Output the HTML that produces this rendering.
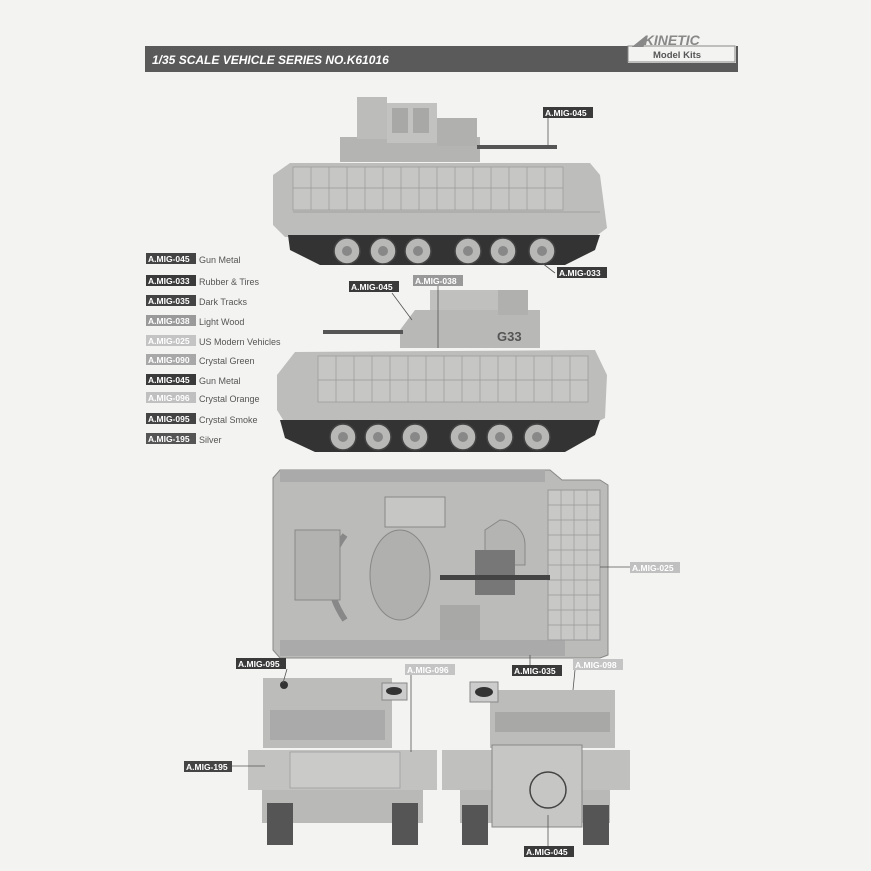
<!DOCTYPE html>
<html><head><meta charset="utf-8"><style>
html,body{margin:0;padding:0;background:#f3f3f1;}
svg{display:block;font-family:"Liberation Sans",sans-serif;}
</style></head><body>
<svg width="871" height="871" viewBox="0 0 871 871" xmlns="http://www.w3.org/2000/svg">
<rect width="871" height="871" fill="#f3f3f1"/>
<!-- header -->
<rect x="145" y="46" width="593" height="26" fill="#5a5a5a"/>
<text x="152" y="64" font-size="12" font-weight="bold" font-style="italic" fill="#fff">1/35 SCALE VEHICLE SERIES NO.K61016</text>
<rect x="628" y="33" width="108" height="30" fill="#f3f3f1"/>
<rect x="628" y="46" width="107" height="16" fill="#f3f3f1" stroke="#888" stroke-width="1"/>
<text x="633" y="45" font-size="14" font-weight="bold" fill="#888" font-style="italic">◢KINETIC</text>
<text x="653" y="58" font-size="9.5" font-weight="bold" fill="#555">Model Kits</text>

<!-- legend -->
<g font-size="8.5" font-weight="bold">
<rect x="146" y="253" width="50" height="11" fill="#444"/><text x="148" y="262" fill="#fff">A.MIG-045</text>
<rect x="146" y="275" width="50" height="11" fill="#3a3a3a"/><text x="148" y="284" fill="#fff">A.MIG-033</text>
<rect x="146" y="295" width="50" height="11" fill="#444"/><text x="148" y="304" fill="#fff">A.MIG-035</text>
<rect x="146" y="315" width="50" height="11" fill="#9a9a9a"/><text x="148" y="324" fill="#fff">A.MIG-038</text>
<rect x="146" y="335" width="50" height="11" fill="#c4c4c4"/><text x="148" y="344" fill="#fff">A.MIG-025</text>
<rect x="146" y="354" width="50" height="11" fill="#a8a8a8"/><text x="148" y="363" fill="#fff">A.MIG-090</text>
<rect x="146" y="374" width="50" height="11" fill="#3a3a3a"/><text x="148" y="383" fill="#fff">A.MIG-045</text>
<rect x="146" y="392" width="50" height="11" fill="#c0c0c0"/><text x="148" y="401" fill="#fff">A.MIG-096</text>
<rect x="146" y="413" width="50" height="11" fill="#444"/><text x="148" y="422" fill="#fff">A.MIG-095</text>
<rect x="146" y="433" width="50" height="11" fill="#555"/><text x="148" y="442" fill="#fff">A.MIG-195</text>
</g>
<g font-size="9" fill="#555">
<text x="199" y="263">Gun Metal</text>
<text x="199" y="285">Rubber &amp; Tires</text>
<text x="199" y="305">Dark Tracks</text>
<text x="199" y="325">Light Wood</text>
<text x="199" y="345">US Modern Vehicles</text>
<text x="199" y="364">Crystal Green</text>
<text x="199" y="384">Gun Metal</text>
<text x="199" y="402">Crystal Orange</text>
<text x="199" y="423">Crystal Smoke</text>
<text x="199" y="443">Silver</text>
</g>

<!-- side view 1 -->
<g>
<rect x="340" y="137" width="140" height="25" fill="#b4b4b2"/>
<rect x="357" y="97" width="30" height="42" fill="#bcbcba"/>
<rect x="387" y="103" width="50" height="40" fill="#c2c2c0"/>
<rect x="392" y="108" width="16" height="25" fill="#a8a8a6"/>
<rect x="413" y="108" width="16" height="25" fill="#a8a8a6"/>
<rect x="437" y="118" width="40" height="28" fill="#b0b0ae"/>
<rect x="477" y="145" width="80" height="4" fill="#555"/>
<polygon points="273,175 290,163 590,163 600,175 607,228 595,237 285,237 273,225" fill="#bdbdbb"/>
<rect x="293" y="167" width="270" height="43" fill="#c6c6c4" stroke="#999" stroke-width="0.7"/>
<g stroke="#999" stroke-width="0.7">
<line x1="293" y1="188" x2="563" y2="188"/>
<line x1="311" y1="167" x2="311" y2="210"/><line x1="329" y1="167" x2="329" y2="210"/><line x1="347" y1="167" x2="347" y2="210"/><line x1="365" y1="167" x2="365" y2="210"/><line x1="383" y1="167" x2="383" y2="210"/><line x1="401" y1="167" x2="401" y2="210"/><line x1="419" y1="167" x2="419" y2="210"/><line x1="437" y1="167" x2="437" y2="210"/><line x1="455" y1="167" x2="455" y2="210"/><line x1="473" y1="167" x2="473" y2="210"/><line x1="491" y1="167" x2="491" y2="210"/><line x1="509" y1="167" x2="509" y2="210"/><line x1="527" y1="167" x2="527" y2="210"/><line x1="545" y1="167" x2="545" y2="210"/>
<line x1="293" y1="212" x2="600" y2="212"/>
</g>
<path d="M288,235 L600,235 L595,250 L565,265 L320,265 L290,250 Z" fill="#333"/>
<g fill="#b8b8b6" stroke="#444" stroke-width="1.5">
<circle cx="347" cy="251" r="13"/><circle cx="383" cy="251" r="13"/><circle cx="418" cy="251" r="13"/><circle cx="468" cy="251" r="13"/><circle cx="503" cy="251" r="13"/><circle cx="542" cy="251" r="13"/>
</g>
<g fill="#888"><circle cx="347" cy="251" r="5"/><circle cx="383" cy="251" r="5"/><circle cx="418" cy="251" r="5"/><circle cx="468" cy="251" r="5"/><circle cx="503" cy="251" r="5"/><circle cx="542" cy="251" r="5"/></g>
</g>

<!-- side view 2 -->
<g>
<rect x="430" y="290" width="80" height="22" fill="#c0c0be"/>
<polygon points="400,330 415,310 540,310 540,348 400,348" fill="#b8b8b6"/>
<rect x="498" y="290" width="30" height="25" fill="#b0b0ae"/>
<rect x="323" y="330" width="80" height="4" fill="#555"/>
<text x="497" y="341" font-size="13" font-weight="bold" fill="#555">G33</text>
<polygon points="277,375 295,352 595,350 607,375 605,418 595,423 285,423 277,410" fill="#bdbdbb"/>
<rect x="318" y="356" width="270" height="46" fill="#c6c6c4" stroke="#999" stroke-width="0.7"/>
<g stroke="#999" stroke-width="0.7">
<line x1="318" y1="380" x2="588" y2="380"/>
<line x1="336" y1="356" x2="336" y2="402"/><line x1="354" y1="356" x2="354" y2="402"/><line x1="372" y1="356" x2="372" y2="402"/><line x1="390" y1="356" x2="390" y2="402"/><line x1="408" y1="356" x2="408" y2="402"/><line x1="426" y1="356" x2="426" y2="402"/><line x1="444" y1="356" x2="444" y2="402"/><line x1="462" y1="356" x2="462" y2="402"/><line x1="480" y1="356" x2="480" y2="402"/><line x1="498" y1="356" x2="498" y2="402"/><line x1="516" y1="356" x2="516" y2="402"/><line x1="534" y1="356" x2="534" y2="402"/><line x1="552" y1="356" x2="552" y2="402"/><line x1="570" y1="356" x2="570" y2="402"/>
</g>
<path d="M280,420 L600,420 L595,435 L565,452 L315,452 L285,438 Z" fill="#333"/>
<g fill="#b8b8b6" stroke="#444" stroke-width="1.5">
<circle cx="343" cy="437" r="13"/><circle cx="378" cy="437" r="13"/><circle cx="415" cy="437" r="13"/><circle cx="463" cy="437" r="13"/><circle cx="500" cy="437" r="13"/><circle cx="537" cy="437" r="13"/>
</g>
<g fill="#888"><circle cx="343" cy="437" r="5"/><circle cx="378" cy="437" r="5"/><circle cx="415" cy="437" r="5"/><circle cx="463" cy="437" r="5"/><circle cx="500" cy="437" r="5"/><circle cx="537" cy="437" r="5"/></g>
</g>

<!-- top view -->
<g>
<polygon points="280,470 550,470 562,480 600,480 608,485 608,655 600,658 280,658 273,650 273,478" fill="#bbbbb9" stroke="#888"/>
<rect x="280" y="470" width="265" height="12" fill="#aaa"/>
<rect x="280" y="640" width="285" height="16" fill="#aaa"/>
<rect x="548" y="490" width="52" height="150" fill="#c8c8c6" stroke="#999"/>
<g stroke="#999" stroke-width="0.7">
<line x1="561" y1="490" x2="561" y2="640"/><line x1="574" y1="490" x2="574" y2="640"/><line x1="587" y1="490" x2="587" y2="640"/>
<line x1="548" y1="505" x2="600" y2="505"/><line x1="548" y1="520" x2="600" y2="520"/><line x1="548" y1="535" x2="600" y2="535"/><line x1="548" y1="550" x2="600" y2="550"/><line x1="548" y1="565" x2="600" y2="565"/><line x1="548" y1="580" x2="600" y2="580"/><line x1="548" y1="595" x2="600" y2="595"/><line x1="548" y1="610" x2="600" y2="610"/><line x1="548" y1="625" x2="600" y2="625"/>
</g>
<rect x="385" y="497" width="60" height="30" fill="#c6c6c4" stroke="#888"/>
<path d="M345,535 q-30,40 0,85" fill="none" stroke="#888" stroke-width="6"/>
<ellipse cx="400" cy="575" rx="30" ry="45" fill="#b0b0ae" stroke="#888"/>
<path d="M500,520 a25,25 0 0 1 25,25 l0,20 l-40,0 l0,-35 Z" fill="#b4b4b2" stroke="#888"/>
<rect x="475" y="550" width="40" height="45" fill="#777"/>
<rect x="440" y="575" width="110" height="5" fill="#444"/>
<rect x="295" y="530" width="45" height="70" fill="#b2b2b0" stroke="#888"/>
<rect x="440" y="605" width="40" height="35" fill="#a8a8a6"/>
</g>

<!-- front view left -->
<g>
<rect x="263" y="678" width="129" height="70" fill="#bcbcba"/>
<rect x="270" y="710" width="115" height="30" fill="#aaa"/>
<circle cx="284" cy="685" r="4" fill="#333"/>
<rect x="382" y="683" width="25" height="17" fill="#ccc" stroke="#888"/>
<ellipse cx="394" cy="691" rx="8" ry="4" fill="#333"/>
<rect x="248" y="750" width="189" height="40" fill="#c2c2c0"/>
<rect x="290" y="752" width="110" height="36" fill="#cacac8" stroke="#999" stroke-width="0.7"/>
<rect x="262" y="790" width="161" height="33" fill="#b9b9b7"/>
<rect x="267" y="803" width="26" height="42" fill="#555"/>
<rect x="392" y="803" width="26" height="42" fill="#555"/>
</g>
<!-- front view right -->
<g>
<rect x="490" y="690" width="125" height="58" fill="#bcbcba"/>
<rect x="495" y="712" width="115" height="20" fill="#a8a8a6"/>
<rect x="470" y="682" width="28" height="20" fill="#ccc" stroke="#888"/>
<ellipse cx="484" cy="692" rx="9" ry="5" fill="#333"/>
<polygon points="442,750 630,750 630,790 442,790" fill="#c0c0be"/>
<rect x="460" y="790" width="150" height="33" fill="#b9b9b7"/>
<rect x="492" y="745" width="90" height="82" fill="#c6c6c4" stroke="#888"/>
<circle cx="548" cy="790" r="18" fill="none" stroke="#444" stroke-width="1.5"/>
<rect x="462" y="805" width="26" height="40" fill="#555"/>
<rect x="583" y="805" width="26" height="40" fill="#555"/>
</g>

<!-- callouts -->
<g stroke="#555" stroke-width="0.8">
<line x1="548" y1="118" x2="548" y2="147"/>
<line x1="555" y1="273" x2="542" y2="263"/>
<line x1="392" y1="293" x2="412" y2="320"/>
<line x1="438" y1="286" x2="438" y2="348"/>
<line x1="600" y1="567" x2="630" y2="567"/>
<line x1="287" y1="669" x2="283" y2="683"/>
<line x1="411" y1="675" x2="411" y2="752"/>
<line x1="530" y1="655" x2="530" y2="665"/>
<line x1="575" y1="670" x2="573" y2="690"/>
<line x1="232" y1="766" x2="265" y2="766"/>
<line x1="548" y1="815" x2="548" y2="846"/>
</g>
<g font-size="8.5" font-weight="bold" fill="#fff">
<rect x="543" y="107" width="50" height="11" fill="#3a3a3a"/><text x="545" y="116">A.MIG-045</text>
<rect x="557" y="267" width="50" height="11" fill="#3a3a3a"/><text x="559" y="276">A.MIG-033</text>
<rect x="349" y="281" width="50" height="11" fill="#3a3a3a"/><text x="351" y="290">A.MIG-045</text>
<rect x="413" y="275" width="50" height="11" fill="#999"/><text x="415" y="284">A.MIG-038</text>
<rect x="630" y="562" width="50" height="11" fill="#c0c0c0"/><text x="632" y="571">A.MIG-025</text>
<rect x="236" y="658" width="50" height="11" fill="#3a3a3a"/><text x="238" y="667">A.MIG-095</text>
<rect x="405" y="664" width="50" height="11" fill="#c4c4c4"/><text x="407" y="673">A.MIG-096</text>
<rect x="512" y="665" width="50" height="11" fill="#3a3a3a"/><text x="514" y="674">A.MIG-035</text>
<rect x="573" y="659" width="50" height="11" fill="#c4c4c4"/><text x="575" y="668">A.MIG-098</text>
<rect x="184" y="761" width="48" height="11" fill="#444"/><text x="186" y="770">A.MIG-195</text>
<rect x="524" y="846" width="50" height="11" fill="#3a3a3a"/><text x="526" y="855">A.MIG-045</text>
</g>
</svg>
</body></html>
